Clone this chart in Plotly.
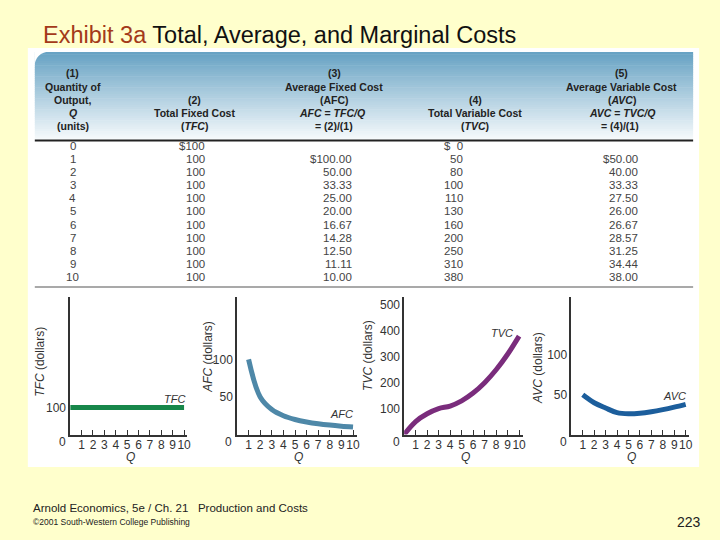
import plotly.graph_objects as go

# ---------------- data ----------------
Q = [0, 1, 2, 3, 4, 5, 6, 7, 8, 9, 10]
TFC = [100, 100, 100, 100, 100, 100, 100, 100, 100, 100, 100]
AFC = [None, 100.00, 50.00, 33.33, 25.00, 20.00, 16.67, 14.28, 12.50, 11.11, 10.00]
TVC = [0, 50, 80, 100, 110, 130, 160, 200, 250, 310, 380]
AVC = [None, 50.00, 40.00, 33.33, 27.50, 26.00, 26.67, 28.57, 31.25, 34.44, 38.00]
x_ticks = [1, 2, 3, 4, 5, 6, 7, 8, 9, 10]
tfc_yticks = [100]
afc_yticks = [50, 100]
tvc_yticks = [100, 200, 300, 400, 500]
avc_yticks = [50, 100]

W, H = 720, 540
def fx(px):
    return px / W
def fy(py):
    return 1 - py / H

BG = "#FFFFCC"
FONT = "Liberation Sans, Arial, sans-serif"
TXT = "#333333"

fig = go.Figure()
shapes = []
ann = []

# white panel
shapes.append(dict(type="rect", xref="paper", yref="paper", x0=fx(28), x1=fx(703), y0=fy(467), y1=fy(48),
                   fillcolor="white", line=dict(width=0), layer="below"))
# header gradient
top, bot = 52, 140
n = 40
c0 = (104, 163, 196)
c1 = (246, 250, 252)
for i in range(n):
    t = i / (n - 1)
    c = tuple(int(c0[k] + (c1[k] - c0[k]) * t) for k in range(3))
    ya = top + (bot - top) * i / n
    yb = top + (bot - top) * (i + 1) / n + 0.6
    shapes.append(dict(type="rect", xref="paper", yref="paper", x0=fx(35), x1=fx(697), y0=fy(yb), y1=fy(ya),
                       fillcolor="rgb(%d,%d,%d)" % c, line=dict(width=0), layer="below"))
# rounded corner mask
r = 16
x0p, y0p = 35, 52
path = "M %f,%f L %f,%f Q %f,%f %f,%f Z" % (fx(x0p - 0.5), fy(y0p - 0.5), fx(x0p + r), fy(y0p - 0.5),
                                          fx(x0p), fy(y0p), fx(x0p - 0.5), fy(y0p + r))
shapes.append(dict(type="path", xref="paper", yref="paper", path=path, fillcolor="white",
                   line=dict(width=0), layer="below"))
# table rules
shapes.append(dict(type="line", xref="paper", yref="paper", x0=fx(35), x1=fx(697), y0=fy(140.5), y1=fy(140.5),
                   line=dict(color="#222222", width=2)))
shapes.append(dict(type="line", xref="paper", yref="paper", x0=fx(35), x1=fx(697), y0=fy(287), y1=fy(287),
                   line=dict(color="#555555", width=1.2)))

# title
ann.append(dict(xref="paper", yref="paper", x=fx(41), y=fy(35), xanchor="left", yanchor="middle", showarrow=False,
                text="<span style='color:#A33A1A'>Exhibit 3a</span> Total, Average, and Marginal Costs",
                font=dict(family=FONT, size=23.5, color="#111111")))
# footer
ann.append(dict(xref="paper", yref="paper", x=fx(31), y=fy(508), xanchor="left", yanchor="middle", showarrow=False,
                text="Arnold Economics, 5e / Ch. 21&nbsp;&nbsp; Production and Costs",
                font=dict(family=FONT, size=11.5, color="#222222")))
ann.append(dict(xref="paper", yref="paper", x=fx(31), y=fy(522), xanchor="left", yanchor="middle", showarrow=False,
                text="©2001 South-Western College Publishing",
                font=dict(family=FONT, size=8.5, color="#222222")))
ann.append(dict(xref="paper", yref="paper", x=fx(707), y=fy(522), xanchor="right", yanchor="middle", showarrow=False,
                text="223", font=dict(family=FONT, size=14, color="#222222")))

# table header
HF = dict(family=FONT, size=10.5, color="#222222")
def htxt(x, y, s, anchor="center"):
    ann.append(dict(xref="paper", yref="paper", x=fx(x), y=fy(y), xanchor=anchor, yanchor="middle",
                    showarrow=False, text=s, font=HF))
hy = [73, 87, 100, 113, 126]
for y, s in zip(hy, ["<b>(1)</b>", "<b>Quantity of</b>", "<b>Output,</b>", "<b><i>Q</i></b>", "<b>(units)</b>"]):
    htxt(73, y, s)
for y, s in zip(hy[2:], ["<b>(2)</b>", "<b>Total Fixed Cost</b>", "<b>(<i>TFC</i>)</b>"]):
    htxt(196, y, s)
for y, s in zip(hy[:3], ["<b>(3)</b>", "<b>Average Fixed Cost</b>", "<b>(AFC)</b>"]):
    htxt(336, y, s)
htxt(334, hy[3], "<b><i>AFC</i> = <i>TFC/Q</i></b>")
htxt(357, hy[4], "<b>= (2)/(1)</b>", "right")
for y, s in zip(hy[2:], ["<b>(4)</b>", "<b>Total Variable Cost</b>", "<b>(<i>TVC</i>)</b>"]):
    htxt(478, y, s)
for y, s in zip(hy[:3], ["<b>(5)</b>", "<b>Average Variable Cost</b>", "<b>(<i>AVC</i>)</b>"]):
    htxt(625, y, s)
htxt(625, hy[3], "<b><i>AVC</i> = <i>TVC/Q</i></b>")
htxt(645, hy[4], "<b>= (4)/(1)</b>", "right")

# table body
DF = dict(family=FONT, size=11.5, color="#444444")
def dtxt(x, y, s, anchor):
    ann.append(dict(xref="paper", yref="paper", x=fx(x), y=fy(y), xanchor=anchor, yanchor="middle",
                    showarrow=False, text=s, font=DF))
for i, q in enumerate(Q):
    y = 146 + i * 13.1
    dtxt(73, y, str(q), "center")
    dtxt(208, y, ("$%d" if i == 0 else "%d") % TFC[i], "right")
    if AFC[i] is not None:
        dtxt(356, y, ("$%.2f" if i == 1 else "%.2f") % AFC[i], "right")
    dtxt(468, y, ("$&nbsp;&nbsp;%d" if i == 0 else "%d") % TVC[i], "right")
    if AVC[i] is not None:
        dtxt(644, y, ("$%.2f" if i == 1 else "%.2f") % AVC[i], "right")

# ---------------- charts ----------------
panels = [
    dict(ox=70.6, ux=11.45, ytop=511, y=TFC, yt=tfc_yticks, col="#17874A", name="TFC", tpos=(40, 362), lpos=(175, 399), xs=Q),
    dict(ox=238.3, ux=11.67, ytop=183, y=AFC, yt=afc_yticks, col="#4E88A8", name="AFC", tpos=(209, 357), lpos=(343, 414), xs=Q),
    dict(ox=406.4, ux=11.56, ytop=531, y=TVC, yt=tvc_yticks, col="#7A2C7C", name="TVC", tpos=(370, 355), lpos=(505, 333), xs=Q),
    dict(ox=574.5, ux=11.5, ytop=173, y=AVC, yt=avc_yticks, col="#1C5E9C", name="AVC", tpos=(541, 368), lpos=(678, 396), xs=Q),
]
ybot, ytopp = 434.5, 297
xr = 10.3
layout_axes = {}
for k, p in enumerate(panels):
    idx = "" if k == 0 else str(k + 1)
    xa, ya = "x" + idx, "y" + idx
    fig.add_trace(go.Scatter(x=p["xs"], y=p["y"], mode="lines", xaxis=xa, yaxis=ya,
                             line=dict(color=p["col"], width=5, shape="spline", smoothing=1.0),
                             showlegend=False, hoverinfo="skip", connectgaps=False))
    layout_axes["xaxis" + idx] = dict(domain=[fx(p["ox"]), fx(p["ox"] + xr * p["ux"])], range=[0, xr],
                                      anchor=ya, showline=True, linecolor="#333333", linewidth=1.5,
                                      showgrid=False, zeroline=False, ticks="inside", ticklen=5, tickwidth=1,
                                      tickcolor="#333333", tickvals=x_ticks, tickangle=0, ticklabelstandoff=-2,
                                      tickfont=dict(family=FONT, size=12, color=TXT), fixedrange=True)
    layout_axes["yaxis" + idx] = dict(domain=[fy(ybot), fy(ytopp)], range=[0, p["ytop"]], anchor=xa,
                                      showline=True, linecolor="#333333", linewidth=1.5, showgrid=False,
                                      zeroline=False, ticks="", tickvals=p["yt"],
                                      tickfont=dict(family=FONT, size=12, color=TXT), fixedrange=True)
    ann.append(dict(xref=xa, yref="paper", x=0, y=fy(442), xshift=-8, xanchor="center", yanchor="middle",
                    showarrow=False, text="0", font=dict(family=FONT, size=12, color=TXT)))
    ann.append(dict(xref="paper", yref="paper", x=fx(p["ox"] + 5.3 * p["ux"]), y=fy(457), xanchor="center",
                    yanchor="middle", showarrow=False, text="<i>Q</i>", font=dict(family=FONT, size=12, color=TXT)))
    ann.append(dict(xref="paper", yref="paper", x=fx(p["tpos"][0]), y=fy(p["tpos"][1]), xanchor="center",
                    yanchor="middle", showarrow=False, textangle=-90,
                    text="<i>%s</i> (dollars)" % p["name"], font=dict(family=FONT, size=12, color=TXT)))
    ann.append(dict(xref="paper", yref="paper", x=fx(p["lpos"][0]), y=fy(p["lpos"][1]), xanchor="center",
                    yanchor="middle", showarrow=False, text="<i>%s</i>" % p["name"],
                    font=dict(family=FONT, size=11, color=TXT)))

fig.update_layout(width=W, height=H, autosize=False, margin=dict(l=0, r=0, t=0, b=0),
                  paper_bgcolor=BG, plot_bgcolor="rgba(0,0,0,0)", shapes=shapes, annotations=ann,
                  showlegend=False, **layout_axes)
fig.write_html("out.html", config={"displayModeBar": False},
               post_script="document.body.style.margin='0';document.body.style.background='#FFFFCC';")
